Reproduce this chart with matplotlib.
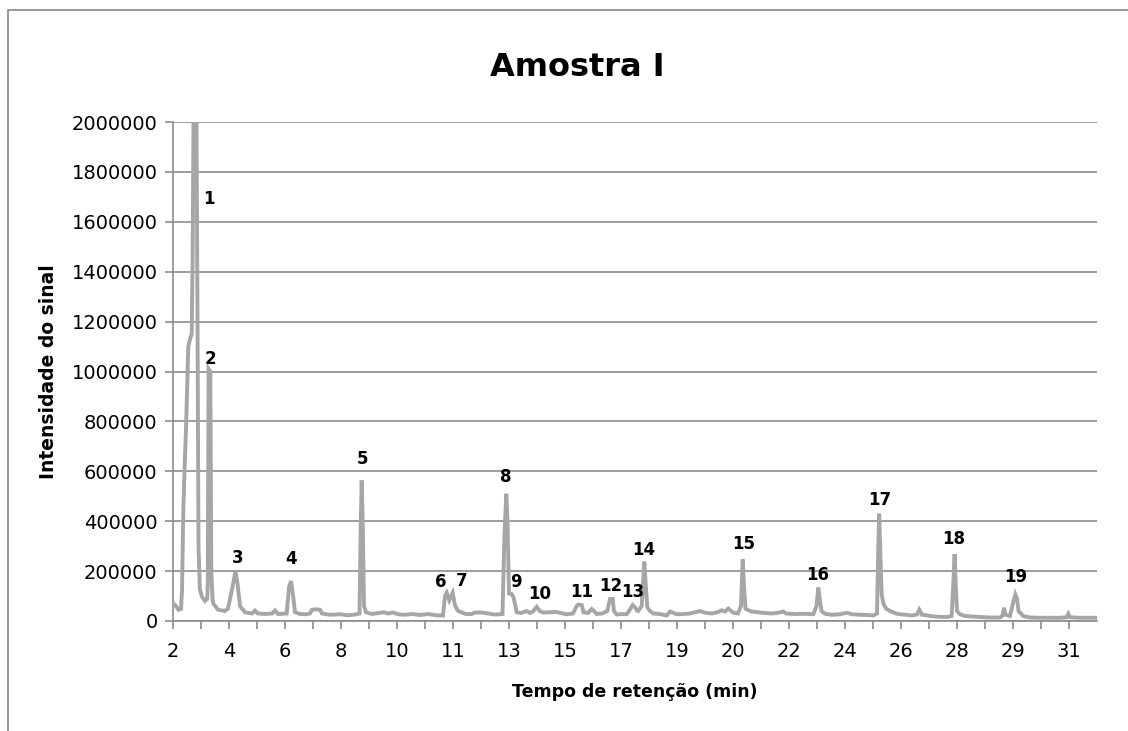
import matplotlib
matplotlib.use("Agg")
import matplotlib.pyplot as plt
from matplotlib.patches import Rectangle

# cromatograma: posicao (varredura) e intensidade
scan = [
    0, 2.5, 5.5, 8, 9, 10.3, 11.5, 13, 15.3, 17, 18.7, 19.6, 20.5, 23.5, 24.5,
    25.5, 26.8,
    28.7, 32, 34.3, 34.8, 35.6, 37.3, 38.3, 39.5, 40.3, 45, 52, 55, 58.7, 62.5,
    64.5, 67, 72, 79, 82, 85, 92, 99, 102, 105, 113.7, 116, 118, 120.3, 122,
    127, 133, 137, 139, 143, 147, 149, 157, 167, 175, 182, 186.5, 187.8, 188.7,
    189.7, 191, 193, 199, 207, 211, 215, 220, 225, 232, 239, 247, 255, 263,
    270, 272, 273.7, 276.3, 279.7, 282, 285, 288.7, 293, 298.7, 302, 308.7,
    315, 322, 329.5, 331.5, 333.3, 334.5, 336, 338.7, 340.5, 342, 343.7, 348,
    353.7, 357, 360, 363.7, 367, 370, 377, 383.7, 390, 393.7, 400, 403.7,
    405.3, 408.7, 410.5, 415, 418.7, 421, 423.7, 429, 434.3, 437, 439.7, 441,
    443.7, 449, 453.7, 456, 459.7, 462, 464, 465.3, 468.7, 471.3, 473, 474.3,
    477, 480.3, 487, 493.7, 497, 503, 507, 517, 527, 532, 539, 545, 548.7, 552,
    555.3, 558, 560.3, 565, 568, 569.7, 571.3, 572.5, 575.3, 579, 585, 592,
    599, 605, 610.3, 613, 622, 632, 640.3, 643.5, 645.3, 647, 648.5, 652, 659,
    667, 673.7, 679, 687, 695, 700.3, 704, 705.3, 706.2, 707.5, 708.7, 710.3,
    713, 717, 723.7, 732, 739, 744, 746.3, 748.7, 757, 765, 773.7, 778.7,
    780.3, 781.6, 782.8, 784, 787, 792, 799, 807, 817, 827, 829.5, 831, 832.5,
    837, 840.5, 842.3, 844, 845.5, 850.3, 857, 867, 877, 887, 893.5, 895.3,
    897, 907, 917, 924,
]
intensidade = [
    70000, 62000, 45000, 48000, 120000, 440000, 600000, 770000, 1100000,
    1130000, 1150000, 1450000, 2000000, 2000000, 1200000, 300000, 130000,
    100000, 80000, 90000, 150000, 1010000, 1000000, 200000, 90000, 70000,
    45000, 40000, 50000, 120000, 200000,
    150000, 60000, 35000, 30000, 42000, 30000, 28000, 30000, 42000, 28000,
    30000, 135000, 160000, 95000, 35000,
    28000, 27000, 30000, 45000, 47000, 45000, 30000, 25000, 27000, 23000,
    26000, 30000, 400000, 563000,
    400000, 60000, 35000, 28000, 33000, 35000, 30000, 34000, 27000, 25000,
    28000, 24000, 28000, 23000,
    22000, 100000, 113000, 83000, 113000, 62000, 41000, 34000, 28000, 28000,
    34000, 34000,
    30000, 26000, 28000, 350000, 510000, 400000, 110000, 108000, 95000, 69000,
    35000, 32000,
    40000, 32000, 38000, 57000, 39000, 34000, 35000, 36000, 30000, 27000,
    30000, 60000,
    66000, 64000, 35000, 32000, 48000, 40000, 28000, 30000, 40000, 88000,
    88000, 40000,
    26000, 28000, 27000, 40000, 64000, 55000, 42000, 40000, 60000, 238000,
    130000, 55000,
    40000, 30000, 28000, 22000, 38000, 28000, 27000, 30000, 40000, 33000,
    30000, 36000, 43000, 38000,
    50000, 40000, 33000, 30000, 60000, 247000, 120000, 50000, 43000, 38000,
    35000, 32000,
    30000, 33000, 38000, 30000, 28000, 29000, 27000, 60000, 134000, 80000,
    40000, 29000, 25000,
    27000, 33000, 27000, 25000, 24000, 22000, 30000, 300000, 430000, 250000,
    108000, 70000,
    50000, 40000, 29000, 25000, 22000, 26000, 45000, 26000, 20000, 17000,
    16000, 20000,
    150000, 268000, 140000, 40000, 27000, 20000, 18000, 16000, 14000, 14000,
    22000, 53000, 25000,
    20000, 80000, 107000, 90000, 40000, 20000, 14000, 13000, 13000, 13000,
    15000, 29000,
    15000, 13000, 13000, 13000,
]

rotulos_x = ["2", "4", "6", "8", "10", "11", "13", "15", "17", "19", "20",
             "22", "24", "26", "28", "29", "31"]

picos = [str(i) for i in range(1, 20)]
picos_x = [36.3, 37, 64.5, 118, 189.7, 268, 288.7, 333, 343, 367, 408.7,
           437.7, 459.3, 470.3, 570.3, 644.7, 706.3, 781, 842.7]
picos_y = [1693000, 1051000, 253000, 249000, 650000, 156000, 160000, 579000,
           156000, 109000, 115000, 142000, 115000, 283000, 307000, 186000,
           483000, 330000, 176000]

CINZA = "#a6a6a6"
GRADE = "#8c8c8c"


def main():
    plt.rcParams['font.family'] = ['DejaVu Sans']
    fig = plt.figure(figsize=(11.28, 7.31), dpi=100)
    fig.patches.append(Rectangle((8 / 1128, -0.1), 1.2, 1.1 - 10 / 731,
                                 transform=fig.transFigure, fill=False,
                                 edgecolor="#888888", linewidth=1.2))
    ax = fig.add_axes([173 / 1128, 1 - 621 / 731, (1097 - 173) / 1128,
                       (621 - 122) / 731])

    ax.plot(scan, intensidade, color=CINZA, linewidth=2.8,
            solid_joinstyle="miter", zorder=3)

    for txt, x, y in zip(picos, picos_x, picos_y):
        ax.text(x, y, txt, ha="center", va="center", fontsize=12,
                fontweight="bold", color="black", zorder=4)

    ax.set_xlim(0, 924)
    ax.set_ylim(0, 2000000)

    ticks = list(range(0, 924, 28))
    ax.set_xticks(ticks)
    ax.set_xticklabels([rotulos_x[i // 2] if i % 2 == 0 else ""
                        for i in range(len(ticks))])
    yt = list(range(0, 2000001, 200000))
    ax.set_yticks(yt)
    ax.set_yticklabels([str(v) for v in yt])

    ax.grid(axis="y", color=GRADE, linewidth=1.2, zorder=0)
    ax.set_axisbelow(True)
    for s in ["top", "right"]:
        ax.spines[s].set_visible(False)
    for s in ["left", "bottom"]:
        ax.spines[s].set_color(GRADE)
        ax.spines[s].set_linewidth(1.2)
    ax.tick_params(axis="both", color=GRADE, width=1.2, length=6,
                   labelsize=14, labelcolor="black")
    ax.tick_params(axis="x", pad=9)
    ax.tick_params(axis="y", pad=5)

    ax.set_xlabel("Tempo de retenção (min)", fontsize=12.5,
                  fontweight="bold", labelpad=16)
    ax.set_ylabel("Intensidade do sinal", fontsize=13.5, fontweight="bold",
                  labelpad=10)
    fig.text(577 / 1128, 1 - 68 / 731, "Amostra I", ha="center",
             va="center", fontsize=23, fontweight="bold")

    fig.savefig("out.png", dpi=100)


if __name__ == "__main__":
    main()
